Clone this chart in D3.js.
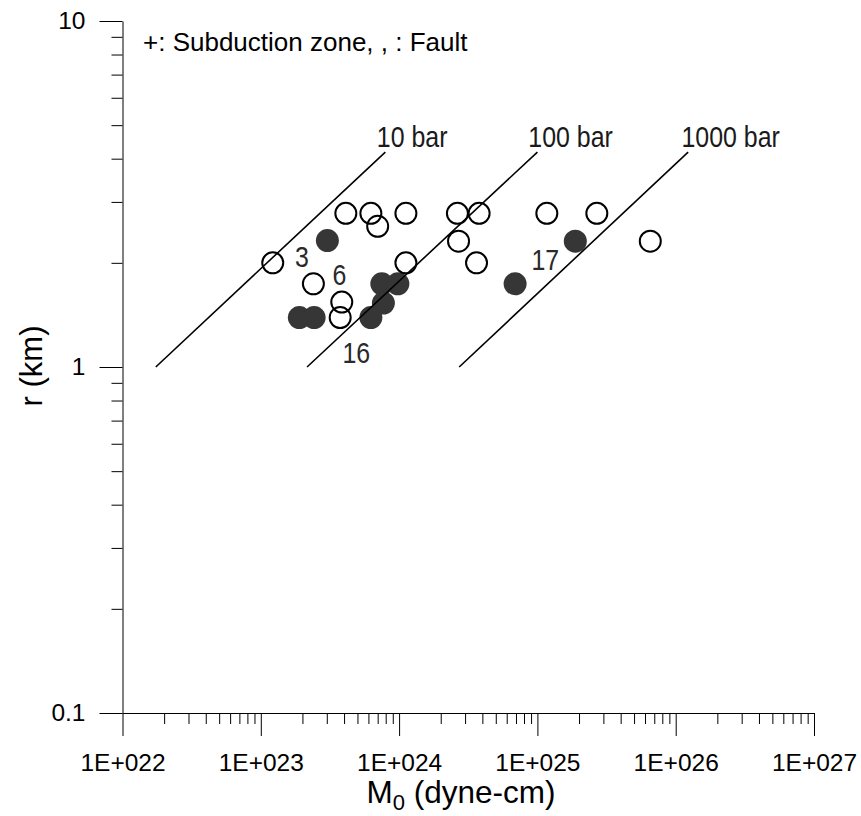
<!DOCTYPE html>
<html>
<head>
<meta charset="utf-8">
<script src="https://cdn.jsdelivr.net/npm/d3@7"></script>
<style>
  html, body { margin: 0; padding: 0; background: #fff; }
  svg { display: block; }
  text { font-family: "Liberation Sans", Arial, sans-serif; fill: #000; }
</style>
</head>
<body>
<svg id="chart" width="861" height="816"></svg>
<script>
// ---- data ----
const openM0 = [1.22e23, 4.12e23, 6.25e23, 7.0e23, 1.12e24, 1.12e24, 2.4e23, 3.85e23, 3.75e23,
                2.64e24, 3.79e24, 2.69e24, 3.63e24, 1.17e25, 2.69e25, 6.55e25];
const openR  = [2.0, 2.78, 2.78, 2.55, 2.78, 2.0, 1.74, 1.54, 1.39,
                2.78, 2.78, 2.31, 2.0, 2.78, 2.78, 2.31];
const filledM0 = [3.03e23, 1.9e23, 2.43e23, 7.5e23, 9.8e23, 7.7e23, 6.25e23, 6.9e24, 1.88e25];
const filledR  = [2.32, 1.39, 1.39, 1.74, 1.74, 1.53, 1.39, 1.74, 2.31];

// stress-drop reference lines
const lineNames = ["10 bar", "100 bar", "1000 bar"];
const lineM0Low  = [1.74e22, 2.16e23, 2.72e24];
const lineM0High = [7.95e23, 1.0e25, 1.23e26];
const lineRLow  = [1, 1, 1];
const lineRHigh = [4.18, 4.18, 4.18];
const lineLabelM0 = [6.9e23, 8.6e24, 1.1e26];
const lineLabelR  = [4.32, 4.32, 4.32];

// event number annotations
const eventLabels = ["3", "6", "16", "17"];
const eventM0 = [1.98e23, 3.71e23, 4.9e23, 1.14e25];
const eventR  = [2.09, 1.845, 1.1, 2.04];

const xMajor = [1e22, 1e23, 1e24, 1e25, 1e26, 1e27];
const xMajorLabels = ["1E+022", "1E+023", "1E+024", "1E+025", "1E+026", "1E+027"];
const yMajor = [0.1, 1, 10];
const yMajorLabels = ["0.1", "1", "10"];

const legendText = "+: Subduction zone, , : Fault";

// ---- scales ----
const svg = d3.select("#chart");
const x = d3.scaleLog().domain([1e22, 1e27]).range([122.5, 814]);
const y = d3.scaleLog().domain([0.1, 10]).range([713, 21]);

const minorX = [];
for (let e = 22; e < 27; e++) for (let k = 2; k <= 9; k++) minorX.push(k * Math.pow(10, e));
const minorY = [];
for (let e = -1; e < 1; e++) for (let k = 2; k <= 9; k++) minorY.push(+(k * Math.pow(10, e)).toPrecision(3));

// ---- axes ----
const gx = svg.append("g").attr("transform", `translate(0,${y(0.1)})`);
gx.call(d3.axisBottom(x).tickValues(minorX).tickSize(11).tickSizeOuter(0).tickFormat(""));
const gxM = svg.append("g").attr("transform", `translate(0,${y(0.1)})`);
gxM.call(d3.axisBottom(x).tickValues(xMajor).tickSize(23).tickSizeOuter(0)
  .tickFormat((d, i) => xMajorLabels[i]));
gxM.select(".domain").remove();
gxM.attr("font-size", null).attr("font-family", null);
gxM.selectAll("text").attr("dy", null).attr("y", 58).attr("font-size", 24.5);

const gy = svg.append("g").attr("transform", `translate(${x(1e22)},0)`);
gy.call(d3.axisLeft(y).tickValues(minorY).tickSize(11).tickSizeOuter(0).tickFormat(""));
const gyM = svg.append("g").attr("transform", `translate(${x(1e22)},0)`);
gyM.call(d3.axisLeft(y).tickValues(yMajor).tickSize(23).tickSizeOuter(0)
  .tickFormat((d, i) => yMajorLabels[i]));
gyM.select(".domain").remove();
gyM.attr("font-size", null).attr("font-family", null);
gyM.selectAll("text").attr("x", -37).attr("dy", "0.3em").attr("font-size", 24.5);

svg.selectAll(".domain, .tick line").attr("stroke", "#000").attr("stroke-width", 1);

// ---- circles ----
const openData = openM0.map((m, i) => ({ m, r: openR[i] }));
const filledData = filledM0.map((m, i) => ({ m, r: filledR[i] }));

svg.append("g").selectAll("circle").data(filledData).join("circle")
  .attr("cx", d => x(d.m)).attr("cy", d => y(d.r)).attr("r", 11.5)
  .attr("fill", "#363636");

svg.append("g").selectAll("circle").data(openData).join("circle")
  .attr("cx", d => x(d.m)).attr("cy", d => y(d.r)).attr("r", 10.5)
  .attr("fill", "none").attr("stroke", "#000").attr("stroke-width", 2);

// ---- stress-drop lines ----
const lines = lineNames.map((n, i) => ({ n, m0: lineM0Low[i], m1: lineM0High[i], r0: lineRLow[i], r1: lineRHigh[i],
  lm: lineLabelM0[i], lr: lineLabelR[i] }));
svg.append("g").selectAll("line").data(lines).join("line")
  .attr("x1", d => x(d.m0)).attr("y1", d => y(d.r0))
  .attr("x2", d => x(d.m1)).attr("y2", d => y(d.r1))
  .attr("stroke", "#000").attr("stroke-width", 1.6);
svg.append("g").selectAll("text").data(lines).join("text")
  .attr("transform", d => `translate(${x(d.lm)},${y(d.lr)}) scale(0.86,1)`)
  .attr("font-size", 29).style("fill", "#1a1a1a")
  .text(d => d.n);

// ---- event labels ----
svg.append("g").selectAll("text").data(eventLabels).join("text")
  .attr("transform", (d, i) => `translate(${x(eventM0[i])},${y(eventR[i])}) scale(0.86,1)`)
  .attr("text-anchor", "middle").attr("dy", "0.36em")
  .attr("font-size", 29).style("fill", "#2a2a2a")
  .text(d => d);

// ---- legend ----
svg.append("text").attr("x", 143).attr("y", 51)
  .attr("font-size", 26)
  .text(legendText);

// ---- titles ----
const xt = svg.append("text").attr("x", 461).attr("y", 803)
  .attr("text-anchor", "middle").attr("font-size", 31.5);
xt.append("tspan").text("M");
xt.append("tspan").text("0").attr("dy", 7).attr("font-size", 22);
xt.append("tspan").text(" (dyne-cm)").attr("dy", -7);

svg.append("text")
  .attr("transform", `translate(42,366) rotate(-90)`)
  .attr("text-anchor", "middle").attr("font-size", 31)
  .text("r (km)");
</script>
</body>
</html>
